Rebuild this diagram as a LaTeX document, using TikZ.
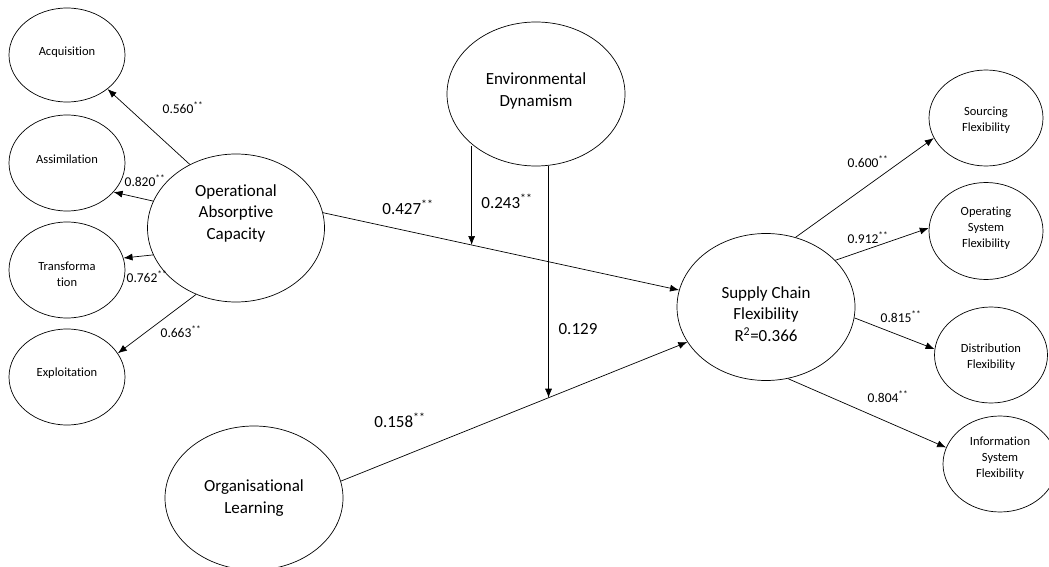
\documentclass[tikz,border=0pt]{standalone}
\usepackage{fontspec}
\setmainfont[Ligatures={NoCommon}]{Carlito}
\usetikzlibrary{shapes.geometric,arrows.meta}
\newcommand{\mystars}{\textsuperscript{**}}
\begin{document}
\begin{tikzpicture}[x=1pt,y=-1pt,
  bigell/.style={draw, ellipse, inner sep=0pt, line width=0.7pt},
  smallell/.style={draw, ellipse, inner sep=0pt, line width=0.7pt},
  bigtxt/.style={inner sep=0pt, align=center, font=\fontsize{17}{21.5}\selectfont},
  smalltxt/.style={inner sep=0pt, align=center, font=\fontsize{12.5}{16}\selectfont},
  arr/.style={-{Latex[length=9pt,width=7pt]}, line width=0.7pt},
  coef/.style={font=\fontsize{13.5}{14}\selectfont, inner sep=0pt},
  bigcoef/.style={font=\fontsize{17}{18}\selectfont, inner sep=0pt}]
\useasboundingbox (0,0) rectangle (1049,567);

% left indicator ellipses
\node[smallell, minimum width=116pt, minimum height=94pt] (acq) at (67,55) {};
\node[smallell, minimum width=116pt, minimum height=96pt] (ass) at (67,163) {};
\node[smallell, minimum width=116pt, minimum height=96pt] (tra) at (67,270) {};
\node[smallell, minimum width=116pt, minimum height=96pt] (exl) at (67,377) {};
\node[smalltxt] (acqt) at ([yshift=3pt]acq.center) {Acquisition};
\node[smalltxt] (asst) at ([yshift=4pt]ass.center) {Assimilation};
\node[smalltxt] (trat) at ([yshift=-4pt]tra.center) {Transforma\\tion};
\node[smalltxt] (exlt) at ([yshift=4pt]exl.center) {Exploitation};

% main constructs
\node[bigell, minimum width=177pt, minimum height=148pt] (oac) at (236,228) {};
\node[bigell, minimum width=178pt, minimum height=144pt] (ed) at (536,94) {};
\node[bigell, minimum width=178pt, minimum height=147pt] (scf) at (766,307) {};
\node[bigell, minimum width=178pt, minimum height=144pt] (ol) at (254,498) {};
\node[bigtxt] (oact) at ([yshift=15pt]oac.center) {Operational\\Absorptive\\Capacity};
\node[bigtxt] (edt) at ([yshift=3pt]ed.center) {Environmental\\Dynamism};
\node[bigtxt] (scft) at ([yshift=-7pt]scf.center) {Supply Chain\\Flexibility\\R\textsuperscript{2}=0.366};
\node[bigtxt] (olt) at (ol.center) {Organisational\\Learning};

% right indicator ellipses
\node[smallell, minimum width=114pt, minimum height=96pt] (sf) at (986,118) {};
\node[smallell, minimum width=114pt, minimum height=97pt] (osf) at (986,231) {};
\node[smallell, minimum width=113pt, minimum height=96pt] (df) at (991,355) {};
\node[smallell, minimum width=114pt, minimum height=96pt] (isf) at (1000,464) {};
\node[smalltxt] (sft) at ([yshift=-2.5pt]sf.center) {Sourcing\\Flexibility};
\node[smalltxt] (osft) at ([yshift=3pt]osf.center) {Operating\\System\\Flexibility};
\node[smalltxt] (dft) at ([yshift=-2pt]df.center) {Distribution\\Flexibility};
\node[smalltxt] (isft) at ([yshift=6pt]isf.center) {Information\\System\\Flexibility};

% loadings of OAC
\draw[arr] (oac.126) -- (acq.-40);
\draw[arr] (oac.162) -- (ass.-32);
\draw[arr] (oac.198) -- (tra.12);
\draw[arr] (oac.239) -- (exl.25);

% structural paths
\draw[arr] (oac.10) -- coordinate[pos=0.4176] (m1) (scf.169);
\draw[arr] (ol.11) -- coordinate[pos=0.5994] (m2) (scf.204);

% moderation arrows
\draw[arr] (ed.220 -| m1) -- (m1);
\draw[arr] (ed.south -| m2) -- (m2);

% loadings of SCF
\draw[arr] (scf.67) -- (sf.201);
\draw[arr] (scf.34) -- (osf.177);
\draw[arr] (scf.-7.5) -- (df.174);
\draw[arr] (scf.-73.5) -- (isf.163);

% coefficient labels
\node[coef] (c1) at (183,108) {0.560\mystars};
\node[coef] (c2) at (145,181) {0.820\mystars};
\node[coef] (c3) at (147,277) {0.762\mystars};
\node[coef] (c4) at (181,332) {0.663\mystars};
\node[bigcoef] (c5) at (408,207) {0.427\mystars};
\node[bigcoef] (c6) at (507,201) {0.243\mystars};
\node[bigcoef] (c7) at (578,329) {0.129};
\node[bigcoef] (c8) at (400,420) {0.158\mystars};
\node[coef] (c9) at (868,162) {0.600\mystars};
\node[coef] (c10) at (868,238) {0.912\mystars};
\node[coef] (c11) at (901,317) {0.815\mystars};
\node[coef] (c12) at (888,397) {0.804\mystars};
\end{tikzpicture}
\end{document}
